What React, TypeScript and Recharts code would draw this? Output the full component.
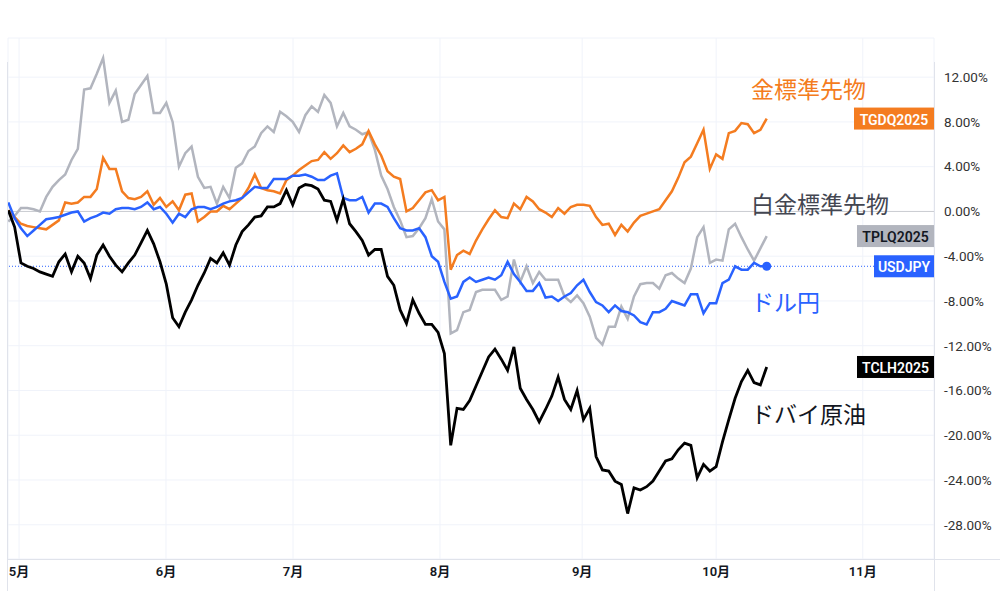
import {
  CartesianGrid,
  Line,
  LineChart,
  ReferenceDot,
  ReferenceLine,
  XAxis,
  YAxis,
} from "recharts";

// % change since the first bar, one value per trading day
const gold = [
  0.1, -0.5, -1.1, -1.3, -1.4, -1.5, -1.6, -1.2, -0.8, 0.8,
  0.7, 0.8, 1.3, 1.3, 2.0, 4.8, 3.8, 3.8, 1.8, 1.2,
  1.1, 1.3, 1.8, 0.6, 1.2, 0.4, 0.9, 0.1, 1.5, 1.6,
  -0.9, -0.5, 0.0, 0.0, 0.5, 0.2, 0.7, 1.2, 2.1, 3.3,
  2.1, 1.9, 1.8, 1.6, 2.8, 3.2, 3.7, 4.1, 4.5, 4.6,
  5.3, 4.7, 5.2, 5.9, 5.3, 5.6, 6.0, 7.2, 6.0, 5.0,
  3.6, 3.1, 2.9, 0.0, 0.3, 1.0, 1.7, 1.9, 1.0, 1.3,
  -5.2, -3.9, -3.5, -3.8, -2.6, -1.6, -0.7, 0.1, -0.5, -0.6,
  0.7, 0.2, 1.3, 0.9, 0.2, -0.1, -0.5, 0.3, -0.2, 0.4,
  0.6, 0.6, 0.5, -0.5, -1.2, -1.1, -2.1, -1.2, -1.8, -1.0,
  -0.4, -0.2, 0.0, 0.2, 1.0, 1.8, 3.0, 4.4, 4.9, 6.1,
  7.3, 3.8, 5.1, 4.7, 7.0, 7.2, 7.9, 7.8, 7.0, 7.3,
  8.3,
];

const platinum = [
  -0.9, -0.4, 0.3, 0.3, 0.2, 0.0, 1.3, 2.2, 2.8, 3.3,
  4.6, 5.6, 10.9, 11.0, 12.3, 13.7, 9.7, 10.8, 8.0, 8.2,
  10.5, 11.3, 12.1, 8.8, 8.8, 9.7, 8.0, 4.0, 5.2, 5.8,
  3.1, 2.1, 2.2, 0.7, 2.2, 1.2, 3.9, 4.3, 5.4, 5.8,
  7.0, 7.6, 7.1, 8.9, 8.5, 8.0, 7.1, 8.6, 9.4, 8.9,
  10.4, 9.7, 7.6, 8.8, 7.6, 7.3, 6.9, 7.1, 5.5, 3.2,
  2.0, 0.4, -0.8, -2.3, -2.2, -1.5, -0.6, 1.1, -0.9, -1.6,
  -10.9, -10.6, -9.0, -8.8, -7.2, -7.0, -7.0, -7.0, -7.9, -7.6,
  -4.3, -6.3, -4.9, -6.4, -5.4, -6.1, -6.1, -6.1, -7.6, -8.1,
  -7.5, -8.2, -9.4, -11.3, -11.9, -10.3, -10.3, -8.5, -9.6, -7.6,
  -6.5, -6.4, -6.4, -6.9, -5.7, -5.5, -6.0, -6.4, -5.1, -2.3,
  -1.4, -4.6, -4.3, -4.4, -1.6, -1.1, -2.3, -3.4, -4.4, -3.3,
  -2.2,
];

const usdjpy = [
  0.8, -0.6, -1.5, -2.2, -1.7, -1.2, -0.7, -0.6, -0.5, -0.3,
  -0.1, 0.0, -0.9, -0.6, -0.4, -0.1, -0.2, 0.2, 0.3, 0.3,
  0.2, 0.4, 0.8, 0.2, 0.4, -0.2, -1.0, -0.2, -0.5, 0.2,
  0.4, 0.4, 0.2, 0.4, 0.7, 0.9, 1.0, 1.2, 1.7, 2.2,
  2.1, 2.1, 2.9, 2.9, 2.9, 3.2, 3.2, 3.3, 3.1, 2.8,
  2.8, 3.2, 3.4, 1.2, 1.0, 1.0, 1.3, -0.1, 0.7, 0.7,
  0.4, -0.6, -1.5, -1.7, -1.7, -1.5, -2.3, -4.0, -4.5, -6.3,
  -7.8, -7.6, -6.3, -5.9, -6.3, -6.1, -5.9, -6.1, -5.7, -4.5,
  -5.6, -6.3, -7.1, -7.1, -6.4, -7.7, -7.6, -8.0, -7.6, -7.3,
  -6.6, -6.1, -7.2, -8.1, -8.4, -9.0, -8.4, -8.9, -9.0, -9.3,
  -9.9, -10.1, -9.0, -9.0, -8.7, -8.0, -8.2, -8.4, -7.4, -7.4,
  -9.1, -8.2, -8.2, -6.4, -6.1, -4.9, -5.2, -5.2, -4.6, -4.9,
  -4.9,
];

const dubai = [
  0.1, -1.4, -4.6, -4.9, -5.1, -5.4, -5.6, -5.8, -4.5, -3.8,
  -5.4, -4.0, -4.6, -6.0, -3.9, -3.0, -4.0, -4.8, -5.4, -4.6,
  -3.9, -2.8, -1.7, -2.9, -4.5, -6.5, -9.5, -10.3, -9.0, -7.9,
  -6.6, -5.5, -4.2, -4.6, -3.7, -4.8, -3.0, -1.8, -1.2, -0.5,
  -0.4, 0.4, 0.4, 0.7, 1.9, 0.6, 2.1, 2.4, 2.3, 2.0,
  1.0, 0.9, -0.8, 1.1, -1.1, -1.8, -2.6, -3.9, -3.4, -3.4,
  -5.8, -6.6, -8.8, -10.0, -7.9, -9.1, -10.1, -10.1, -10.8, -12.7,
  -20.9, -17.6, -17.7, -16.9, -15.6, -14.3, -13.0, -12.3, -13.2, -14.2,
  -12.1, -15.8, -16.8, -17.7, -18.8, -17.7, -16.5, -14.8, -16.8, -17.7,
  -16.0, -18.6, -17.6, -21.9, -23.1, -23.2, -24.1, -24.4, -27.0, -24.7,
  -24.9, -24.6, -24.1, -23.2, -22.3, -22.1, -21.3, -20.7, -20.9, -23.8,
  -22.6, -23.2, -22.8, -20.6, -18.6, -16.7, -15.2, -14.2, -15.3, -15.5,
  -13.9,
];

const monthTicks = [1.7, 24.95, 45.05, 68.3, 90.8, 112, 135.2];
const monthLabels = ["5月", "6月", "7月", "8月", "9月", "10月", "11月"];
const pctTicks = [-28, -24, -20, -16, -12, -8, -4, 0, 4, 8, 12];

const X_DOMAIN: [number, number] = [-0.05, 146.47];
const Y_DOMAIN: [number, number] = [-31.06, 15.5];

const ORANGE = "#f47c20";
const GREY = "#b2b5be";
const BLUE = "#2962ff";
const BLACK = "#000000";
const FONT = "Roboto, 'Noto Sans CJK JP', sans-serif";
const JP_FONT = "'Noto Sans CJK JP', sans-serif";

const data = gold.map((g, i) => ({
  i,
  gold: g,
  platinum: platinum[i],
  usdjpy: usdjpy[i],
  dubai: dubai[i],
}));
const last = data.length - 1;

const tags = [
  { label: "TGDQ2025", value: gold[last], bg: ORANGE, fg: "#ffffff", w: 80 },
  { label: "TPLQ2025", value: platinum[last], bg: GREY, fg: "#131722", w: 77 },
  { label: "USDJPY", value: usdjpy[last], bg: BLUE, fg: "#ffffff", w: 60 },
  { label: "TCLH2025", value: dubai[last], bg: BLACK, fg: "#ffffff", w: 77 },
];

const notes = [
  { text: "金標準先物", x: 117.5, y: 11.0, color: ORANGE },
  { text: "白金標準先物", x: 117.5, y: 0.75, color: "#434651" },
  { text: "ドル円", x: 117.5, y: -8.0, color: BLUE },
  { text: "ドバイ原油", x: 117.5, y: -18.0, color: "#131722" },
];

const tagShape = (label: string, bg: string, fg: string, w: number) => (p: any) => (
  <g>
    <rect x={p.cx - w} y={p.cy - 11} width={w} height={22} fill={bg} />
    <text
      x={p.cx - w / 2}
      y={p.cy + 1}
      textAnchor="middle"
      dominantBaseline="central"
      fill={fg}
      fontSize={14}
      fontWeight={600}
      fontFamily={FONT}
    >
      {label}
    </text>
  </g>
);

const noteShape = (text: string, color: string) => (p: any) => (
  <text
    x={p.cx}
    y={p.cy}
    dominantBaseline="central"
    fill={color}
    fontSize={23}
    fontFamily={JP_FONT}
  >
    {text}
  </text>
);

const endDot = (p: any) =>
  p.index === last ? (
    <circle key="end" cx={p.cx} cy={p.cy} r={4.5} fill={BLUE} />
  ) : (
    <g key={`d${p.index}`} />
  );

export default function App() {
  return (
    <div style={{ position: "absolute", left: 0, top: 0, width: 1000, height: 591, background: "#fff" }}>
      <LineChart width={1000} height={591} data={data} margin={{ top: 38, right: 0, bottom: 0, left: 8 }}>
        <CartesianGrid stroke="#f0f3fa" />
        <XAxis
          type="number"
          dataKey="i"
          domain={X_DOMAIN}
          allowDataOverflow
          ticks={monthTicks}
          interval={0}
          height={32}
          axisLine={false}
          tickLine={false}
          tickFormatter={(v: number) => monthLabels[monthTicks.indexOf(v)]}
          tick={{ fontSize: 13, fontWeight: 600, fill: "#131722", fontFamily: FONT }}
        />
        <YAxis
          orientation="right"
          width={66}
          domain={Y_DOMAIN}
          allowDataOverflow
          ticks={pctTicks}
          interval={0}
          axisLine={false}
          tickLine={false}
          tickMargin={4}
          tickFormatter={(v: number) => `${v.toFixed(2)}%`}
          tick={{ fontSize: 13.5, fill: "#333", fontFamily: FONT }}
        />
        <ReferenceLine y={0} stroke="#c9cbd1" />
        <ReferenceLine y={usdjpy[last]} stroke={BLUE} strokeDasharray="1 2" />
        <Line type="linear" dataKey="platinum" stroke={GREY} strokeWidth={2.5} dot={false} isAnimationActive={false} />
        <Line type="linear" dataKey="gold" stroke={ORANGE} strokeWidth={2.5} dot={false} isAnimationActive={false} />
        <Line type="linear" dataKey="usdjpy" stroke={BLUE} strokeWidth={2.5} dot={endDot} isAnimationActive={false} />
        <Line type="linear" dataKey="dubai" stroke={BLACK} strokeWidth={2.8} dot={false} isAnimationActive={false} />
        {notes.map((n) => (
          <ReferenceDot key={n.text} x={n.x} y={n.y} ifOverflow="visible" shape={noteShape(n.text, n.color)} />
        ))}
        {tags.map((t) => (
          <ReferenceDot
            key={t.label}
            x={X_DOMAIN[1]}
            y={t.value}
            ifOverflow="visible"
            shape={tagShape(t.label, t.bg, t.fg, t.w)}
          />
        ))}
      </LineChart>
      <svg width={1000} height={591} style={{ position: "absolute", left: 0, top: 0, pointerEvents: "none" }}>
        <line x1={7.5} y1={62} x2={7.5} y2={591} stroke="#e0e3eb" />
        <line x1={934.5} y1={62} x2={934.5} y2={591} stroke="#e0e3eb" />
        <line x1={7.5} y1={559.5} x2={1000} y2={559.5} stroke="#e0e3eb" />
      </svg>
    </div>
  );
}
